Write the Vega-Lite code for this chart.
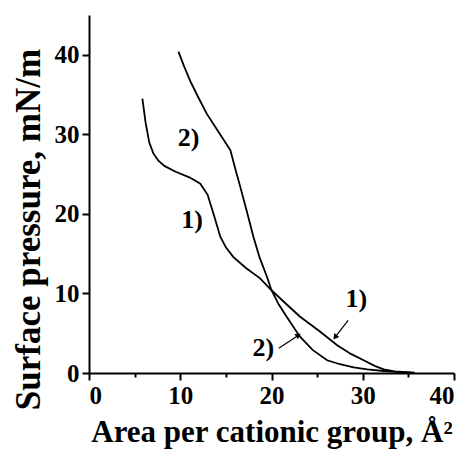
{
  "$schema": "https://vega.github.io/schema/vega-lite/v6.json",
  "width": 365,
  "height": 358,
  "autosize": {"type": "none"},
  "padding": {"left": 89, "top": 15, "right": 15, "bottom": 77},
  "background": "white",
  "config": {
    "view": {"stroke": null},
    "font": "Liberation Serif"
  },
  "datasets": {
    "curves": [
      {"s": "1", "i": 1, "x": 5.85, "y": 34.5},
      {"s": "1", "i": 2, "x": 6.2, "y": 31.5},
      {"s": "1", "i": 3, "x": 6.6, "y": 29.0},
      {"s": "1", "i": 4, "x": 7.05, "y": 27.6},
      {"s": "1", "i": 5, "x": 7.6, "y": 26.7},
      {"s": "1", "i": 6, "x": 8.3, "y": 26.0},
      {"s": "1", "i": 7, "x": 9.5, "y": 25.3},
      {"s": "1", "i": 8, "x": 11.0, "y": 24.6},
      {"s": "1", "i": 9, "x": 12.2, "y": 23.8},
      {"s": "1", "i": 10, "x": 13.0, "y": 22.4},
      {"s": "1", "i": 11, "x": 13.7, "y": 19.8},
      {"s": "1", "i": 12, "x": 14.4, "y": 17.1},
      {"s": "1", "i": 13, "x": 15.0, "y": 15.8},
      {"s": "1", "i": 14, "x": 15.8, "y": 14.6},
      {"s": "1", "i": 15, "x": 17.2, "y": 13.2},
      {"s": "1", "i": 16, "x": 18.75, "y": 11.9},
      {"s": "1", "i": 17, "x": 20.0, "y": 10.4},
      {"s": "1", "i": 18, "x": 21.5, "y": 8.8},
      {"s": "1", "i": 19, "x": 23.1, "y": 7.1},
      {"s": "1", "i": 20, "x": 25.2, "y": 5.3},
      {"s": "1", "i": 21, "x": 27.2, "y": 3.5},
      {"s": "1", "i": 22, "x": 28.7, "y": 2.4},
      {"s": "1", "i": 23, "x": 30.1, "y": 1.6},
      {"s": "1", "i": 24, "x": 31.3, "y": 0.9},
      {"s": "1", "i": 25, "x": 32.3, "y": 0.45},
      {"s": "1", "i": 26, "x": 33.5, "y": 0.2},
      {"s": "1", "i": 27, "x": 35.7, "y": 0.05},
      {"s": "2", "i": 1, "x": 9.8, "y": 40.4},
      {"s": "2", "i": 2, "x": 10.4, "y": 38.6},
      {"s": "2", "i": 3, "x": 11.1, "y": 36.7},
      {"s": "2", "i": 4, "x": 12.0, "y": 34.6},
      {"s": "2", "i": 5, "x": 12.9, "y": 32.6},
      {"s": "2", "i": 6, "x": 14.2, "y": 30.3},
      {"s": "2", "i": 7, "x": 15.5, "y": 28.0},
      {"s": "2", "i": 8, "x": 16.0, "y": 25.8},
      {"s": "2", "i": 9, "x": 16.6, "y": 23.3},
      {"s": "2", "i": 10, "x": 17.3, "y": 20.3},
      {"s": "2", "i": 11, "x": 18.0, "y": 17.2},
      {"s": "2", "i": 12, "x": 18.7, "y": 14.5},
      {"s": "2", "i": 13, "x": 19.5, "y": 12.1},
      {"s": "2", "i": 14, "x": 20.0, "y": 10.4},
      {"s": "2", "i": 15, "x": 20.8, "y": 8.6},
      {"s": "2", "i": 16, "x": 21.7, "y": 7.0},
      {"s": "2", "i": 17, "x": 23.1, "y": 4.6},
      {"s": "2", "i": 18, "x": 24.5, "y": 2.9},
      {"s": "2", "i": 19, "x": 26.1, "y": 1.6},
      {"s": "2", "i": 20, "x": 27.5, "y": 1.1},
      {"s": "2", "i": 21, "x": 29.0, "y": 0.7},
      {"s": "2", "i": 22, "x": 30.5, "y": 0.45},
      {"s": "2", "i": 23, "x": 32.3, "y": 0.25},
      {"s": "2", "i": 24, "x": 34.0, "y": 0.1},
      {"s": "2", "i": 25, "x": 35.3, "y": 0.05}
    ],
    "labels": [
      {"t": "2)", "x": 10.9, "y": 29.6},
      {"t": "1)", "x": 11.3, "y": 19.2},
      {"t": "1)", "x": 29.3, "y": 9.3},
      {"t": "2)", "x": 19.1, "y": 3.1}
    ],
    "arrows": [
      {"a": "1", "x": 28.4, "y": 6.6, "x2": 26.97, "y2": 4.5},
      {"a": "2", "x": 20.8, "y": 3.1, "x2": 22.95, "y2": 4.76}
    ]
  },
  "layer": [
    {
      "data": {"name": "curves"},
      "mark": {"type": "line", "color": "black", "strokeWidth": 1.8},
      "encoding": {
        "x": {
          "field": "x", "type": "quantitative",
          "scale": {"domain": [0, 40], "nice": false},
          "axis": {
            "title": "Area per cationic group, Å²",
            "values": [0, 5, 10, 15, 20, 25, 30, 35, 40],
            "labelExpr": "datum.value % 10 === 0 ? datum.label : ''",
            "grid": false,
            "domainColor": "black", "domainWidth": 2,
            "tickColor": "black", "tickWidth": 2,
            "tickSize": {"condition": {"test": "datum.value % 10 === 0", "value": 7}, "value": 4},
            "labelFont": "Liberation Serif", "labelFontWeight": "bold", "labelFontSize": 25, "labelColor": "black",
            "labelPadding": 3,
            "titleFont": "Liberation Serif", "titleFontWeight": "bold", "titleFontSize": 31, "titleColor": "black",
            "titlePadding": 9
          }
        },
        "y": {
          "field": "y", "type": "quantitative",
          "scale": {"domain": [0, 45], "nice": false},
          "axis": {
            "title": "Surface pressure, mN/m",
            "values": [0, 5, 10, 15, 20, 25, 30, 35, 40, 45],
            "labelExpr": "datum.value % 10 === 0 ? datum.label : ''",
            "grid": false,
            "domainColor": "black", "domainWidth": 2,
            "tickColor": "black", "tickWidth": 2,
            "tickSize": {"condition": {"test": "datum.value % 10 === 0", "value": 7}, "value": 4},
            "labelFont": "Liberation Serif", "labelFontWeight": "bold", "labelFontSize": 25, "labelColor": "black",
            "labelPadding": 3,
            "titleFont": "Liberation Serif", "titleFontWeight": "bold", "titleFontSize": 35, "titleColor": "black",
            "titlePadding": 8,
            "titleY": 214
          }
        },
        "detail": {"field": "s", "type": "nominal"},
        "order": {"field": "i", "type": "quantitative"}
      }
    },
    {
      "data": {"name": "labels"},
      "mark": {"type": "text", "font": "Liberation Serif", "fontWeight": "bold", "fontSize": 26, "color": "black", "align": "center", "baseline": "middle"},
      "encoding": {
        "x": {"field": "x", "type": "quantitative"},
        "y": {"field": "y", "type": "quantitative"},
        "text": {"field": "t"}
      }
    },
    {
      "data": {"name": "arrows"},
      "mark": {"type": "rule", "color": "black", "strokeWidth": 1.2},
      "encoding": {
        "x": {"field": "x", "type": "quantitative"},
        "y": {"field": "y", "type": "quantitative"},
        "x2": {"field": "x2"},
        "y2": {"field": "y2"}
      }
    },
    {
      "data": {"name": "arrows"},
      "transform": [{"filter": "datum.a === '1'"}],
      "mark": {"type": "point", "shape": "triangle-up", "filled": true, "color": "black", "size": 40, "angle": 217, "opacity": 1},
      "encoding": {
        "x": {"field": "x2", "type": "quantitative"},
        "y": {"field": "y2", "type": "quantitative"}
      }
    },
    {
      "data": {"name": "arrows"},
      "transform": [{"filter": "datum.a === '2'"}],
      "mark": {"type": "point", "shape": "triangle-up", "filled": true, "color": "black", "size": 40, "angle": 57, "opacity": 1},
      "encoding": {
        "x": {"field": "x2", "type": "quantitative"},
        "y": {"field": "y2", "type": "quantitative"}
      }
    }
  ]
}
